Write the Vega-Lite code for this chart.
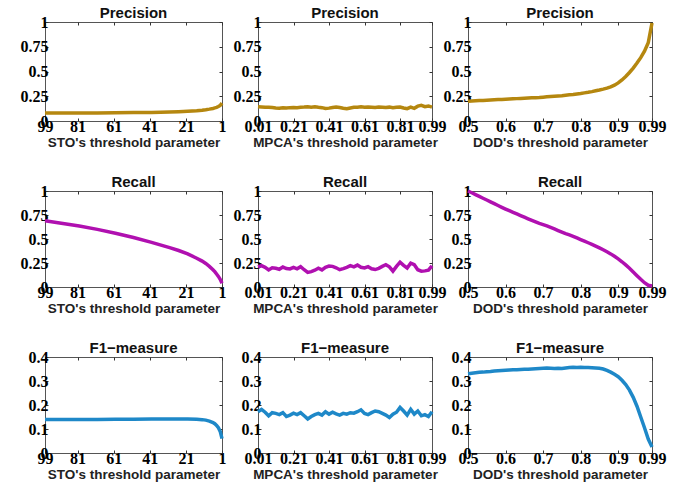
{
"$schema": "https://vega.github.io/schema/vega-lite/v6.json",
"background": "white",
"padding": {"left": 19, "top": 5, "right": 5, "bottom": 3},
"bounds": "flush",
"columns": 3,
"spacing": {"row": 70, "column": 36},
"datasets": {
"sto": [
{"t":99,"P":0.080,"R":0.690,"F":0.140},{"t":90,"P":0.080,"R":0.665,"F":0.140},{"t":80,"P":0.081,"R":0.635,"F":0.140},{"t":70,"P":0.082,"R":0.600,"F":0.140},{"t":60,"P":0.083,"R":0.560,"F":0.141},{"t":50,"P":0.085,"R":0.515,"F":0.141},{"t":40,"P":0.087,"R":0.465,"F":0.142},{"t":30,"P":0.091,"R":0.410,"F":0.142},{"t":25,"P":0.094,"R":0.380,"F":0.142},{"t":20,"P":0.098,"R":0.345,"F":0.142},{"t":15,"P":0.104,"R":0.300,"F":0.141},{"t":12,"P":0.109,"R":0.270,"F":0.139},{"t":10,"P":0.114,"R":0.245,"F":0.137},{"t":8,"P":0.120,"R":0.215,"F":0.133},{"t":6,"P":0.127,"R":0.180,"F":0.127},{"t":5,"P":0.132,"R":0.160,"F":0.122},{"t":4,"P":0.138,"R":0.135,"F":0.115},{"t":3,"P":0.146,"R":0.110,"F":0.105},{"t":2,"P":0.158,"R":0.080,"F":0.090},{"t":1,"P":0.180,"R":0.040,"F":0.060}
],
"mpca": [
{"t":0.01,"P":0.145,"R":0.210,"F":0.172},{"t":0.03,"P":0.142,"R":0.222,"F":0.182},{"t":0.05,"P":0.138,"R":0.205,"F":0.170},{"t":0.07,"P":0.140,"R":0.178,"F":0.155},{"t":0.09,"P":0.136,"R":0.200,"F":0.168},{"t":0.11,"P":0.132,"R":0.195,"F":0.165},{"t":0.13,"P":0.130,"R":0.185,"F":0.160},{"t":0.15,"P":0.133,"R":0.208,"F":0.168},{"t":0.17,"P":0.131,"R":0.192,"F":0.152},{"t":0.19,"P":0.135,"R":0.188,"F":0.158},
{"t":0.21,"P":0.137,"R":0.205,"F":0.166},{"t":0.23,"P":0.135,"R":0.190,"F":0.160},{"t":0.25,"P":0.139,"R":0.212,"F":0.168},{"t":0.27,"P":0.141,"R":0.180,"F":0.155},{"t":0.29,"P":0.144,"R":0.152,"F":0.142},{"t":0.31,"P":0.140,"R":0.160,"F":0.152},{"t":0.33,"P":0.143,"R":0.175,"F":0.160},{"t":0.35,"P":0.138,"R":0.195,"F":0.165},{"t":0.37,"P":0.135,"R":0.178,"F":0.158},{"t":0.39,"P":0.126,"R":0.205,"F":0.172},
{"t":0.41,"P":0.130,"R":0.218,"F":0.162},{"t":0.43,"P":0.137,"R":0.215,"F":0.170},{"t":0.45,"P":0.141,"R":0.200,"F":0.163},{"t":0.47,"P":0.136,"R":0.180,"F":0.158},{"t":0.49,"P":0.128,"R":0.192,"F":0.165},{"t":0.51,"P":0.125,"R":0.205,"F":0.162},{"t":0.53,"P":0.132,"R":0.222,"F":0.168},{"t":0.55,"P":0.138,"R":0.210,"F":0.166},{"t":0.57,"P":0.140,"R":0.228,"F":0.172},{"t":0.59,"P":0.143,"R":0.205,"F":0.180},
{"t":0.61,"P":0.139,"R":0.198,"F":0.165},{"t":0.63,"P":0.142,"R":0.212,"F":0.160},{"t":0.65,"P":0.140,"R":0.190,"F":0.168},{"t":0.67,"P":0.137,"R":0.182,"F":0.175},{"t":0.69,"P":0.141,"R":0.195,"F":0.172},{"t":0.71,"P":0.139,"R":0.215,"F":0.165},{"t":0.73,"P":0.136,"R":0.232,"F":0.158},{"t":0.75,"P":0.140,"R":0.210,"F":0.148},{"t":0.77,"P":0.133,"R":0.165,"F":0.162},{"t":0.79,"P":0.138,"R":0.215,"F":0.170},
{"t":0.81,"P":0.142,"R":0.258,"F":0.190},{"t":0.83,"P":0.132,"R":0.225,"F":0.175},{"t":0.85,"P":0.125,"R":0.198,"F":0.158},{"t":0.87,"P":0.140,"R":0.248,"F":0.182},{"t":0.89,"P":0.128,"R":0.232,"F":0.162},{"t":0.91,"P":0.150,"R":0.180,"F":0.175},{"t":0.93,"P":0.158,"R":0.165,"F":0.155},{"t":0.95,"P":0.145,"R":0.168,"F":0.160},{"t":0.97,"P":0.152,"R":0.175,"F":0.152},{"t":0.99,"P":0.140,"R":0.220,"F":0.172}
],
"dod": [
{"t":0.5,"P":0.200,"R":1.000,"F":0.330},{"t":0.51,"P":0.202,"R":0.982,"F":0.332},{"t":0.52,"P":0.204,"R":0.963,"F":0.334},{"t":0.53,"P":0.206,"R":0.944,"F":0.336},{"t":0.54,"P":0.208,"R":0.925,"F":0.337},{"t":0.55,"P":0.210,"R":0.906,"F":0.339},{"t":0.56,"P":0.212,"R":0.887,"F":0.340},{"t":0.57,"P":0.214,"R":0.868,"F":0.342},{"t":0.58,"P":0.216,"R":0.849,"F":0.343},{"t":0.59,"P":0.218,"R":0.830,"F":0.344},
{"t":0.6,"P":0.220,"R":0.812,"F":0.345},{"t":0.61,"P":0.222,"R":0.795,"F":0.346},{"t":0.62,"P":0.224,"R":0.778,"F":0.347},{"t":0.63,"P":0.226,"R":0.761,"F":0.347},{"t":0.64,"P":0.228,"R":0.744,"F":0.348},{"t":0.65,"P":0.230,"R":0.727,"F":0.349},{"t":0.66,"P":0.232,"R":0.710,"F":0.349},{"t":0.67,"P":0.234,"R":0.694,"F":0.350},{"t":0.68,"P":0.236,"R":0.678,"F":0.351},{"t":0.69,"P":0.238,"R":0.663,"F":0.352},
{"t":0.7,"P":0.241,"R":0.650,"F":0.353},{"t":0.71,"P":0.244,"R":0.636,"F":0.354},{"t":0.72,"P":0.247,"R":0.621,"F":0.353},{"t":0.73,"P":0.250,"R":0.605,"F":0.352},{"t":0.74,"P":0.253,"R":0.588,"F":0.353},{"t":0.75,"P":0.256,"R":0.572,"F":0.352},{"t":0.76,"P":0.260,"R":0.557,"F":0.354},{"t":0.77,"P":0.264,"R":0.543,"F":0.356},{"t":0.78,"P":0.268,"R":0.528,"F":0.357},{"t":0.79,"P":0.273,"R":0.511,"F":0.356},
{"t":0.8,"P":0.278,"R":0.494,"F":0.357},{"t":0.81,"P":0.284,"R":0.478,"F":0.356},{"t":0.82,"P":0.290,"R":0.461,"F":0.356},{"t":0.83,"P":0.297,"R":0.444,"F":0.355},{"t":0.84,"P":0.305,"R":0.426,"F":0.354},{"t":0.85,"P":0.313,"R":0.407,"F":0.353},{"t":0.86,"P":0.322,"R":0.388,"F":0.350},{"t":0.87,"P":0.332,"R":0.367,"F":0.344},{"t":0.88,"P":0.345,"R":0.345,"F":0.337},{"t":0.89,"P":0.362,"R":0.320,"F":0.328},
{"t":0.9,"P":0.385,"R":0.293,"F":0.318},{"t":0.91,"P":0.415,"R":0.263,"F":0.303},{"t":0.92,"P":0.450,"R":0.230,"F":0.285},{"t":0.93,"P":0.490,"R":0.195,"F":0.262},{"t":0.94,"P":0.535,"R":0.157,"F":0.232},{"t":0.95,"P":0.585,"R":0.118,"F":0.195},{"t":0.96,"P":0.640,"R":0.080,"F":0.150},{"t":0.97,"P":0.705,"R":0.045,"F":0.105},{"t":0.98,"P":0.790,"R":0.018,"F":0.058},{"t":0.99,"P":0.990,"R":0.010,"F":0.025}
]
},
"concat": [
{"title": "Precision", "width": 177, "height": 99, "data": {"name": "sto"},
 "layer": [
  {"mark": {"type": "line", "color": "#B5870F", "strokeWidth": 3.5}, "encoding": {
    "x": {"field": "t", "type": "quantitative", "scale": {"domain": [1, 99], "reverse": true, "nice": false, "zero": false}, "axis": {"values": [99, 81, 61, 41, 21, 1], "title": "STO's threshold parameter"}},
    "y": {"field": "P", "type": "quantitative", "scale": {"domain": [0, 1], "nice": false}, "axis": {"values": [0, 0.25, 0.5, 0.75, 1], "title": null}}}},
  {"mark": {"type": "line", "opacity": 0}, "encoding": {
    "x": {"field": "t", "type": "quantitative", "axis": {"orient": "top", "values": [99, 81, 61, 41, 21, 1], "labels": false, "title": null}},
    "y": {"field": "P", "type": "quantitative", "axis": {"orient": "right", "values": [0, 0.25, 0.5, 0.75, 1], "labels": false, "title": null}}}}
 ],
 "resolve": {"axis": {"x": "independent", "y": "independent"}}},
{"title": "Precision", "width": 174, "height": 99, "data": {"name": "mpca"},
 "layer": [
  {"mark": {"type": "line", "color": "#B5870F", "strokeWidth": 3.5}, "encoding": {
    "x": {"field": "t", "type": "quantitative", "scale": {"domain": [0.01, 0.99], "nice": false, "zero": false}, "axis": {"values": [0.01, 0.21, 0.41, 0.61, 0.81, 0.99], "title": "MPCA's threshold parameter"}},
    "y": {"field": "P", "type": "quantitative", "scale": {"domain": [0, 1], "nice": false}, "axis": {"values": [0, 0.25, 0.5, 0.75, 1], "title": null}}}},
  {"mark": {"type": "line", "opacity": 0}, "encoding": {
    "x": {"field": "t", "type": "quantitative", "axis": {"orient": "top", "values": [0.01, 0.21, 0.41, 0.61, 0.81, 0.99], "labels": false, "title": null}},
    "y": {"field": "P", "type": "quantitative", "axis": {"orient": "right", "values": [0, 0.25, 0.5, 0.75, 1], "labels": false, "title": null}}}}
 ],
 "resolve": {"axis": {"x": "independent", "y": "independent"}}},
{"title": "Precision", "width": 184, "height": 99, "data": {"name": "dod"},
 "layer": [
  {"mark": {"type": "line", "color": "#B5870F", "strokeWidth": 3.5}, "encoding": {
    "x": {"field": "t", "type": "ordinal", "scale": {"type": "point", "padding": 0}, "axis": {"values": [0.5, 0.6, 0.7, 0.8, 0.9, 0.99], "labelAngle": 0, "title": "DOD's threshold parameter"}},
    "y": {"field": "P", "type": "quantitative", "scale": {"domain": [0, 1], "nice": false}, "axis": {"values": [0, 0.25, 0.5, 0.75, 1], "title": null}}}},
  {"mark": {"type": "line", "opacity": 0}, "encoding": {
    "x": {"field": "t", "type": "ordinal", "axis": {"orient": "top", "values": [0.5, 0.6, 0.7, 0.8, 0.9, 0.99], "labels": false, "title": null}},
    "y": {"field": "P", "type": "quantitative", "axis": {"orient": "right", "values": [0, 0.25, 0.5, 0.75, 1], "labels": false, "title": null}}}}
 ],
 "resolve": {"axis": {"x": "independent", "y": "independent"}}},
{"title": "Recall", "width": 177, "height": 96, "data": {"name": "sto"},
 "layer": [
  {"mark": {"type": "line", "color": "#B010B0", "strokeWidth": 3.5}, "encoding": {
    "x": {"field": "t", "type": "quantitative", "scale": {"domain": [1, 99], "reverse": true, "nice": false, "zero": false}, "axis": {"values": [99, 81, 61, 41, 21, 1], "title": "STO's threshold parameter"}},
    "y": {"field": "R", "type": "quantitative", "scale": {"domain": [0, 1], "nice": false}, "axis": {"values": [0, 0.25, 0.5, 0.75, 1], "title": null}}}},
  {"mark": {"type": "line", "opacity": 0}, "encoding": {
    "x": {"field": "t", "type": "quantitative", "axis": {"orient": "top", "values": [99, 81, 61, 41, 21, 1], "labels": false, "title": null}},
    "y": {"field": "R", "type": "quantitative", "axis": {"orient": "right", "values": [0, 0.25, 0.5, 0.75, 1], "labels": false, "title": null}}}}
 ],
 "resolve": {"axis": {"x": "independent", "y": "independent"}}},
{"title": "Recall", "width": 174, "height": 96, "data": {"name": "mpca"},
 "layer": [
  {"mark": {"type": "line", "color": "#B010B0", "strokeWidth": 3.5}, "encoding": {
    "x": {"field": "t", "type": "quantitative", "scale": {"domain": [0.01, 0.99], "nice": false, "zero": false}, "axis": {"values": [0.01, 0.21, 0.41, 0.61, 0.81, 0.99], "title": "MPCA's threshold parameter"}},
    "y": {"field": "R", "type": "quantitative", "scale": {"domain": [0, 1], "nice": false}, "axis": {"values": [0, 0.25, 0.5, 0.75, 1], "title": null}}}},
  {"mark": {"type": "line", "opacity": 0}, "encoding": {
    "x": {"field": "t", "type": "quantitative", "axis": {"orient": "top", "values": [0.01, 0.21, 0.41, 0.61, 0.81, 0.99], "labels": false, "title": null}},
    "y": {"field": "R", "type": "quantitative", "axis": {"orient": "right", "values": [0, 0.25, 0.5, 0.75, 1], "labels": false, "title": null}}}}
 ],
 "resolve": {"axis": {"x": "independent", "y": "independent"}}},
{"title": "Recall", "width": 184, "height": 96, "data": {"name": "dod"},
 "layer": [
  {"mark": {"type": "line", "color": "#B010B0", "strokeWidth": 3.5}, "encoding": {
    "x": {"field": "t", "type": "ordinal", "scale": {"type": "point", "padding": 0}, "axis": {"values": [0.5, 0.6, 0.7, 0.8, 0.9, 0.99], "labelAngle": 0, "title": "DOD's threshold parameter"}},
    "y": {"field": "R", "type": "quantitative", "scale": {"domain": [0, 1], "nice": false}, "axis": {"values": [0, 0.25, 0.5, 0.75, 1], "title": null}}}},
  {"mark": {"type": "line", "opacity": 0}, "encoding": {
    "x": {"field": "t", "type": "ordinal", "axis": {"orient": "top", "values": [0.5, 0.6, 0.7, 0.8, 0.9, 0.99], "labels": false, "title": null}},
    "y": {"field": "R", "type": "quantitative", "axis": {"orient": "right", "values": [0, 0.25, 0.5, 0.75, 1], "labels": false, "title": null}}}}
 ],
 "resolve": {"axis": {"x": "independent", "y": "independent"}}},
{"title": "F1−measure", "width": 177, "height": 96, "data": {"name": "sto"},
 "layer": [
  {"mark": {"type": "line", "color": "#1E88C8", "strokeWidth": 3.5}, "encoding": {
    "x": {"field": "t", "type": "quantitative", "scale": {"domain": [1, 99], "reverse": true, "nice": false, "zero": false}, "axis": {"values": [99, 81, 61, 41, 21, 1], "title": "STO's threshold parameter"}},
    "y": {"field": "F", "type": "quantitative", "scale": {"domain": [0, 0.4], "nice": false}, "axis": {"values": [0, 0.1, 0.2, 0.3, 0.4], "title": null}}}},
  {"mark": {"type": "line", "opacity": 0}, "encoding": {
    "x": {"field": "t", "type": "quantitative", "axis": {"orient": "top", "values": [99, 81, 61, 41, 21, 1], "labels": false, "title": null}},
    "y": {"field": "F", "type": "quantitative", "axis": {"orient": "right", "values": [0, 0.1, 0.2, 0.3, 0.4], "labels": false, "title": null}}}}
 ],
 "resolve": {"axis": {"x": "independent", "y": "independent"}}},
{"title": "F1−measure", "width": 174, "height": 96, "data": {"name": "mpca"},
 "layer": [
  {"mark": {"type": "line", "color": "#1E88C8", "strokeWidth": 3.5}, "encoding": {
    "x": {"field": "t", "type": "quantitative", "scale": {"domain": [0.01, 0.99], "nice": false, "zero": false}, "axis": {"values": [0.01, 0.21, 0.41, 0.61, 0.81, 0.99], "title": "MPCA's threshold parameter"}},
    "y": {"field": "F", "type": "quantitative", "scale": {"domain": [0, 0.4], "nice": false}, "axis": {"values": [0, 0.1, 0.2, 0.3, 0.4], "title": null}}}},
  {"mark": {"type": "line", "opacity": 0}, "encoding": {
    "x": {"field": "t", "type": "quantitative", "axis": {"orient": "top", "values": [0.01, 0.21, 0.41, 0.61, 0.81, 0.99], "labels": false, "title": null}},
    "y": {"field": "F", "type": "quantitative", "axis": {"orient": "right", "values": [0, 0.1, 0.2, 0.3, 0.4], "labels": false, "title": null}}}}
 ],
 "resolve": {"axis": {"x": "independent", "y": "independent"}}},
{"title": "F1−measure", "width": 184, "height": 96, "data": {"name": "dod"},
 "layer": [
  {"mark": {"type": "line", "color": "#1E88C8", "strokeWidth": 3.5}, "encoding": {
    "x": {"field": "t", "type": "ordinal", "scale": {"type": "point", "padding": 0}, "axis": {"values": [0.5, 0.6, 0.7, 0.8, 0.9, 0.99], "labelAngle": 0, "title": "DOD's threshold parameter"}},
    "y": {"field": "F", "type": "quantitative", "scale": {"domain": [0, 0.4], "nice": false}, "axis": {"values": [0, 0.1, 0.2, 0.3, 0.4], "title": null}}}},
  {"mark": {"type": "line", "opacity": 0}, "encoding": {
    "x": {"field": "t", "type": "ordinal", "axis": {"orient": "top", "values": [0.5, 0.6, 0.7, 0.8, 0.9, 0.99], "labels": false, "title": null}},
    "y": {"field": "F", "type": "quantitative", "axis": {"orient": "right", "values": [0, 0.1, 0.2, 0.3, 0.4], "labels": false, "title": null}}}}
 ],
 "resolve": {"axis": {"x": "independent", "y": "independent"}}}
],
"config": {
"numberFormat": ".2~f",
"view": {"stroke": "#555555", "strokeWidth": 1},
"axis": {"domain": false, "grid": false, "ticks": true, "tickSize": -3, "tickColor": "#333333", "labelFont": "Liberation Serif", "labelFontWeight": "bold", "labelFontSize": 16, "labelColor": "#000000", "labelPadding": 0, "labelFlush": false, "labelOverlap": false, "titleFont": "Liberation Sans", "titleFontWeight": "bold", "titleFontSize": 13.5, "titleColor": "#222222", "titlePadding": 1},
"title": {"font": "Liberation Sans", "fontWeight": "bold", "fontSize": 15, "offset": -7, "color": "#111111"}
}
}
